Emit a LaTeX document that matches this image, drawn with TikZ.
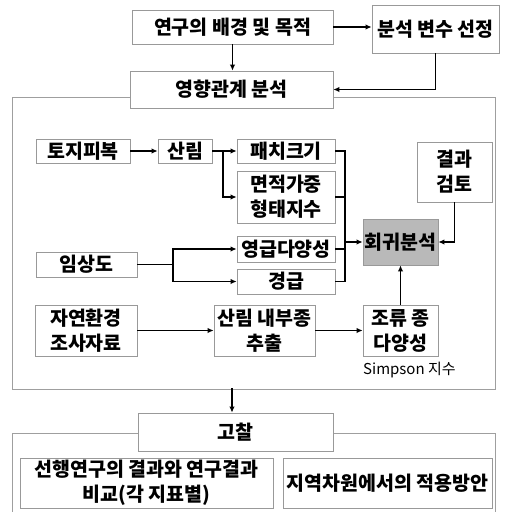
\documentclass[tikz,border=0pt]{standalone}
\usepackage{fontspec}
\newfontfamily\kr{Noto Sans CJK KR}
\usepackage{tikz}
\usetikzlibrary{
  calc,%
  arrows.meta,%
  positioning
}
\tikzset{>={Latex[length=6pt,width=5.5pt]}}
\tikzset{box/.style={draw=gray!80, line width=0.8pt, fill=white, inner sep=0pt,
    align=center, font=\kr\bfseries\fontsize{19.5}{25}\selectfont}}
\tikzset{link/.style={line width=1.6pt, line cap=rect}}
\tikzset{frameline/.style={draw=gray!75, line width=0.8pt}}

\begin{document}
\begin{tikzpicture}[x=1pt, y=-1pt]
  \useasboundingbox (0,0) rectangle (504,512);
  % outer frames
  \draw[frameline] (12,97) rectangle (495,389);
  \draw[frameline] (12,512) -- (12,433) -- (495,433) -- (495,512);
  % top row
  \node[box, minimum width=201pt, minimum height=34pt] (bg) at (232.5,27) {연구의 배경 및 목적};
  \node[box, minimum width=127pt, minimum height=48pt] (var) at (435.5,29) {분석 변수 선정};
  \node[box, minimum width=203pt, minimum height=37pt] (infl) at (231.5,89.5) {영향관계 분석};
  % inside the frame
  \node[box, minimum width=94pt, minimum height=24pt] (land) at (83,151) {토지피복};
  \node[box, minimum width=54pt, minimum height=24pt] (forest) at (185,151) {산림};
  \node[box, minimum width=98pt, minimum height=24pt] (patch) at (286,151) {패치크기};
  \node[box, minimum width=98pt, minimum height=52pt] (shape) at (286,197) {면적가중\\형태지수};
  \node[box, minimum width=75pt, minimum height=60pt] (review) at (454.5,172) {결과\\검토};
  \node[box, fill=gray!55, minimum width=75pt, minimum height=46pt] (reg) at (400.5,242) {회귀분석};
  \node[box, minimum width=98pt, minimum height=26pt] (age) at (286,249) {영급다양성};
  \node[box, minimum width=98pt, minimum height=25pt] (dia) at (286,281.5) {경급};
  \node[box, minimum width=101pt, minimum height=25pt] (stand) at (86.5,264.5) {임상도};
  \node[box, minimum width=102pt, minimum height=51pt] (nat) at (86,330.5) {자연환경\\조사자료};
  \node[box, minimum width=101pt, minimum height=51pt] (inner) at (264.5,330.5) {산림 내부종\\추출};
  \node[box, minimum width=75pt, minimum height=51pt] (bird) at (400.5,330.5) {조류 종\\다양성};
  \node[font=\kr\fontsize{15}{17}\selectfont, anchor=west, inner sep=0pt] (simpson) at (363,370) {Simpson 지수};
  % bottom part
  \node[box, minimum width=195pt, minimum height=38pt] (disc) at (235.5,432) {고찰};
  \node[box, minimum width=253pt, minimum height=50pt] (prev) at (146.5,483) {선행연구의 결과와 연구결과\\비교(각 지표별)};
  \node[box, minimum width=209pt, minimum height=50pt] (local) at (387.5,483) {지역차원에서의 적용방안};
  % helper points
  \coordinate (fb) at (223,151);
  \coordinate (sb) at (173,264.5);
  \coordinate (cl) at (345,0);
  \coordinate (fbot) at (232,389);
  % connectors
  \draw[link, ->] (bg.east) -- (bg.east -| var.west);
  \draw[link, ->] (bg.south) -- (bg.south |- infl.north);
  \draw[link, ->] (var.south) |- (infl.east);
  \draw[link, ->] (land.east) -- (forest.west);
  \draw[link] (forest.east) -- (fb |- forest.east);
  \draw[link, ->] (fb |- forest.east) -- (patch.west);
  \draw[link, ->] (fb |- forest.east) |- (shape.west);
  \draw[link] (stand.east) -- (sb);
  \draw[link, ->] (sb) |- (age.west);
  \draw[link, ->] (sb) |- (dia.west);
  \draw[link] (patch.east) -| (cl |- dia.east) -- (dia.east);
  \draw[link] (shape.east) -- (cl |- shape.east);
  \draw[link] (age.east) -- (cl |- age.east);
  \draw[link, ->] (cl |- reg.west) -- (reg.west);
  \draw[link, ->] (review.south) |- (reg.east);
  \draw[link, ->] (bird.north) -- (reg.south);
  \draw[link, ->] (nat.east) -- (inner.west);
  \draw[link, ->] (inner.east) -- (bird.west);
  \draw[link, ->] (fbot) -- (fbot |- disc.north);
\end{tikzpicture}
\end{document}
